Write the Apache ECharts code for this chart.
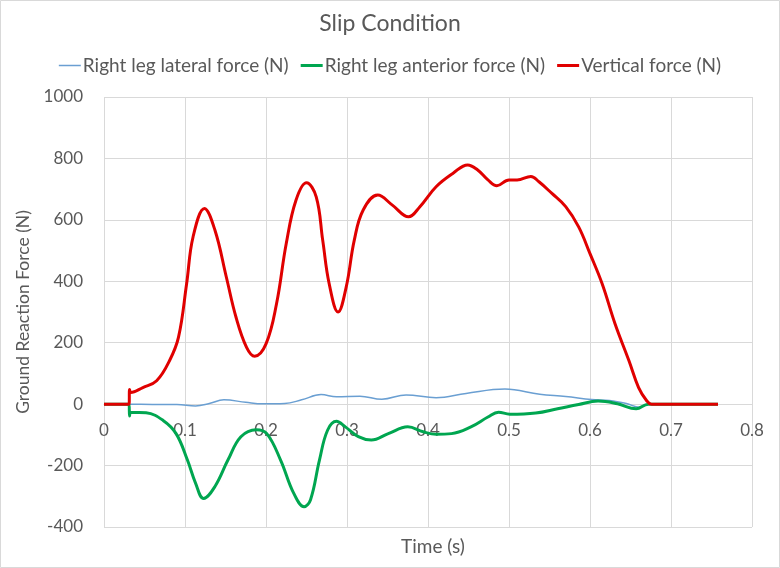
<!DOCTYPE html>
<html>
<head>
<meta charset="utf-8">
<script src="https://cdn.jsdelivr.net/npm/echarts@6/dist/echarts.min.js"></script>
<style>
html,body{margin:0;padding:0;background:#fff;}
#main{width:780px;height:568px;}
</style>
</head>
<body>
<div id="main"></div>
<script>
// 横向力 (蓝)
var latT = [0, 0.031, 0.06, 0.09, 0.113, 0.13, 0.148, 0.175, 0.196, 0.223, 0.244, 0.268, 0.287, 0.316, 0.343, 0.373, 0.41, 0.447, 0.495, 0.538, 0.57, 0.602, 0.624, 0.645, 0.661, 0.672, 0.758];
var latV = [0, 0, -1, -1, -6, 2, 14, 6, 1, 2, 14, 31, 24, 26, 16, 30, 21, 35, 49, 32, 25, 15, 12, 2, -10, 0, 0];
// 前后向力 (绿)
var antT = [0, 0.03, 0.031, 0.0315, 0.033, 0.052, 0.073, 0.089, 0.103, 0.113, 0.123, 0.137, 0.153, 0.169, 0.188, 0.201, 0.218, 0.234, 0.247, 0.255, 0.266, 0.276, 0.287, 0.298, 0.314, 0.33, 0.351, 0.375, 0.394, 0.41, 0.429, 0.453, 0.474, 0.487, 0.501, 0.533, 0.56, 0.586, 0.61, 0.634, 0.657, 0.672, 0.758];
var antV = [0, 0, 0, -39, -26, -28, -53, -96, -182, -257, -307, -268, -182, -106, -83, -96, -182, -289, -334, -311, -182, -85, -56, -74, -106, -117, -96, -74, -90, -98, -96, -74, -42, -26, -33, -29, -15, -1, 10, 1, -15, 0, 0];
// 垂直力 (红)
var verT = [0, 0.03, 0.031, 0.0315, 0.033, 0.048, 0.065, 0.081, 0.092, 0.102, 0.11, 0.124, 0.137, 0.151, 0.163, 0.176, 0.186, 0.2, 0.213, 0.225, 0.237, 0.25, 0.262, 0.27, 0.278, 0.289, 0.299, 0.309, 0.32, 0.338, 0.356, 0.376, 0.39, 0.41, 0.431, 0.449, 0.461, 0.474, 0.485, 0.5, 0.51, 0.527, 0.537, 0.553, 0.57, 0.586, 0.6, 0.615, 0.631, 0.648, 0.66, 0.67, 0.676, 0.758];
var verV = [0, 0, 0, 48, 38, 54, 76, 142, 218, 392, 545, 637, 566, 414, 283, 185, 156, 196, 327, 523, 664, 721, 675, 534, 392, 300, 381, 534, 632, 681, 648, 610, 643, 708, 752, 779, 763, 730, 711, 730, 730, 741, 724, 686, 643, 577, 490, 392, 261, 142, 54, 11, 0, 0];

var legendNames = ['Right leg lateral force (N)', 'Right leg anterior force (N)', 'Vertical force (N)'];
var xTicks = [0, 0.8, 0.1];
var yTicks = [-400, 1000, 200];

function pairs(t, v){
    var arr = [];
    for (var i = 0; i < t.length; i++) arr.push([t[i], v[i]]);
    return arr;
}

var font = 'Lato, "Open Sans", sans-serif';
var gray = '#595959';
var myChart = echarts.init(document.getElementById('main'));
var option = {
    animation: false,
    backgroundColor: '#fff',
    textStyle: {fontFamily: font},
    title: [
        {text: 'Slip Condition', left: 'center', top: 7,
         textStyle: {fontFamily: font, fontSize: 23, fontWeight: 'normal', color: gray}},
        {text: 'Time (s)', left: 428, top: 532, textAlign: 'center',
         textStyle: {fontFamily: font, fontSize: 19, fontWeight: 'normal', color: gray}}
    ],
    legend: {
        top: 51, left: 'center',
        itemWidth: 22, itemHeight: 3, itemGap: 12,
        textStyle: {fontFamily: font, fontSize: 19, color: gray, padding: [0, 0, 0, -3]},
        data: [
            {name: legendNames[0], icon: 'path://M0,0L22,0L22,1.5L0,1.5Z'},
            {name: legendNames[1], icon: 'rect'},
            {name: legendNames[2], icon: 'rect'}
        ]
    },
    graphic: [{
        type: 'rect', shape: {x: 0.5, y: 0.5, width: 779, height: 567},
        style: {fill: 'none', stroke: '#d9d9d9', lineWidth: 1}, silent: true
    }],
    grid: {left: 104, right: 28, top: 97, bottom: 41},
    xAxis: {
        type: 'value', min: xTicks[0], max: xTicks[1], interval: xTicks[2],
        offset: -123,
        axisLine: {onZero: false, lineStyle: {color: '#d9d9d9'}},
        axisTick: {show: false},
        axisLabel: {fontFamily: font, fontSize: 17, color: gray, margin: 18,
            formatter: function(v){ return +v.toFixed(1) + ''; }},
        splitLine: {show: true, lineStyle: {color: '#d9d9d9'}}
    },
    yAxis: {
        type: 'value', min: yTicks[0], max: yTicks[1], interval: yTicks[2],
        name: 'Ground Reaction Force (N)', nameLocation: 'middle', nameGap: 57,
        nameTextStyle: {fontFamily: font, fontSize: 17.5, color: gray},
        axisLine: {show: false},
        axisTick: {show: false},
        axisLabel: {fontFamily: font, fontSize: 17, color: gray, margin: 21,
            formatter: function(v){ return v + ''; }},
        splitLine: {show: true, lineStyle: {color: '#d9d9d9'}}
    },
    series: [
        {name: legendNames[0], type: 'line', data: pairs(latT, latV), showSymbol: false,
         smooth: 0.4, color: '#6a9fd2', lineStyle: {width: 1.5}, z: 2},
        {name: legendNames[1], type: 'line', data: pairs(antT, antV), showSymbol: false,
         smooth: 0.4, color: '#00a650', lineStyle: {width: 3}, z: 3},
        {name: legendNames[2], type: 'line', data: pairs(verT, verV), showSymbol: false,
         smooth: 0.4, color: '#e00000', lineStyle: {width: 3}, z: 4}
    ]
};
myChart.setOption(option);
</script>
</body>
</html>
